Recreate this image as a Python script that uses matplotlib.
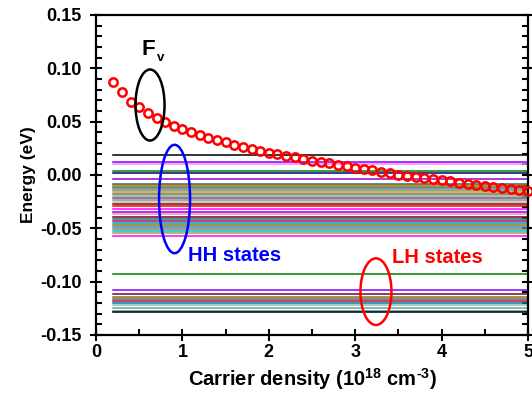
import matplotlib
matplotlib.use("Agg")
import matplotlib.pyplot as plt
from matplotlib.patches import Ellipse
import numpy as np

plt.rcParams['font.family'] = ['Liberation Sans', 'DejaVu Sans']
plt.rcParams['font.weight'] = 'bold'
plt.rcParams['mathtext.fontset'] = 'custom'
plt.rcParams['mathtext.rm'] = 'Liberation Sans:bold'
plt.rcParams['mathtext.bf'] = 'Liberation Sans:bold'

# Carrier density (1e18 cm^-3)
density = [0.2, 0.3, 0.4, 0.5, 0.6, 0.7, 0.8, 0.9, 1.0, 1.1, 1.2, 1.3, 1.4, 1.5, 1.6,
           1.7, 1.8, 1.9, 2.0, 2.1, 2.2, 2.3, 2.4, 2.5, 2.6, 2.7, 2.8, 2.9, 3.0, 3.1,
           3.2, 3.3, 3.4, 3.5, 3.6, 3.7, 3.8, 3.9, 4.0, 4.1, 4.2, 4.3, 4.4, 4.5, 4.6,
           4.7, 4.8, 4.9, 5.0]
# Quasi-Fermi level F_v (eV)
fermi_v = [0.0869, 0.0781, 0.0687, 0.0635, 0.0578, 0.0532, 0.0494, 0.0459, 0.0431,
           0.0406, 0.0375, 0.0350, 0.0325, 0.0307, 0.0284, 0.0265, 0.0247, 0.0228,
           0.0209, 0.0197, 0.0181, 0.0166, 0.0150, 0.0134, 0.0122, 0.0110, 0.0097,
           0.0082, 0.0066, 0.0053, 0.0044, 0.0031, 0.0016, 0.0004, -0.0008, -0.0016,
           -0.0025, -0.0038, -0.0047, -0.0059, -0.0072, -0.0084, -0.0094, -0.0103,
           -0.0115, -0.0125, -0.0134, -0.0143, -0.0150]

# Heavy-hole state energies (eV)
hh_states = [0.01875, 0.0125, 0.0103, 0.0040, 0.0016, -0.0040, -0.0080, -0.0094,
             -0.0108, -0.0122, -0.0141, -0.0159, -0.0178, -0.0197, -0.0216, -0.0234,
             -0.0253, -0.0272, -0.0291, -0.0319, -0.0344, -0.0366, -0.0391, -0.0413,
             -0.0431, -0.0450, -0.0469, -0.0488, -0.0506, -0.0525, -0.0544, -0.0572]
# Light-hole state energies (eV)
lh_states = [-0.0931, -0.1078, -0.1118, -0.1141, -0.1163, -0.1181, -0.1203,
             -0.1223, -0.1247, -0.1272, -0.1287]

hh_colors = ['#000000', '#8000FF', '#FF80FF', '#008000', '#000080', '#A000C0',
             '#008080', '#C06000', '#808000', '#4080C0', '#808080', '#B0B000',
             '#707070', '#A0A0A0', '#606060', '#909090', '#C0C0C0', '#800000',
             '#FF0000', '#FF00FF', '#8000FF', '#FF80C0', '#800000', '#008080',
             '#C00080', '#00A0A0', '#808000', '#4080C0', '#808080', '#00C0C0',
             '#A0A040', '#FF00FF']
lh_colors = ['#008000', '#8000FF', '#800040', '#808000', '#606060', '#C00060',
             '#008080', '#80C0C0', '#80A080', '#40A0C0', '#000000']

x_range = [density[0], density[-1]]

fig = plt.figure(figsize=(5.32, 4.04), dpi=100)
ax = fig.add_axes([0.1805, 0.1708, 0.812, 0.7921])

for e, c in zip(hh_states, hh_colors):
    ax.plot(x_range, [e, e], color=c, lw=1.1, zorder=2)
for e, c in zip(lh_states, lh_colors):
    ax.plot(x_range, [e, e], color=c, lw=1.1, zorder=2)

ax.plot(density, fermi_v, 'o', ms=6.0, mfc='none', mec='#FF0000', mew=1.8,
        zorder=4, clip_on=False)

# annotation ellipses
ax.add_patch(Ellipse((0.625, 0.0656), 0.336, 0.0666, fill=False, ec='black', lw=1.8, zorder=5))
ax.add_patch(Ellipse((0.909, -0.0225), 0.359, 0.1016, fill=False, ec='#0000FF', lw=1.8, zorder=5))
ax.add_patch(Ellipse((3.24, -0.1094), 0.359, 0.0625, fill=False, ec='#FF0000', lw=1.8, zorder=5))

ax.text(0.53, 0.1173, 'F', fontsize=16, fontweight='bold', ha='left', va='center')
ax.text(0.71, 0.1093, 'v', fontsize=9.5, fontweight='bold', ha='left', va='center')
ax.text(1.065, -0.0755, 'HH states', fontsize=14.5, fontweight='bold', color='#0000FF',
        ha='left', va='center')
ax.text(3.42, -0.0778, 'LH states', fontsize=14.5, fontweight='bold', color='#FF0000',
        ha='left', va='center')

ax.set_xlim(0, 5)
ax.set_ylim(-0.15, 0.15)
ax.set_xticks(np.arange(0, 5.01, 1))
ax.set_xticks(np.arange(0.5, 5, 1), minor=True)
ax.set_yticks(np.arange(-0.15, 0.151, 0.05))
ax.set_yticks(np.arange(-0.15, 0.151, 0.01), minor=True)
ax.set_xticklabels(['0', '1', '2', '3', '4', '5'])
ax.set_yticklabels(['-0.15', '-0.10', '-0.05', '0.00', '0.05', '0.10', '0.15'])

ax.tick_params(which='major', direction='inout', length=9, width=1.5, labelsize=13)
ax.tick_params(which='minor', direction='in', length=4, width=1.5)
ax.tick_params(axis='x', which='major', pad=2)
ax.tick_params(axis='y', which='major', pad=6)
ax.tick_params(which='both', axis='y', right=True, labelright=False)
for s in ax.spines.values():
    s.set_linewidth(1.6)

ax.set_xlabel(r'Carrier density (10$^{\mathbf{18}}$ cm$^{\text{-3}}$)', fontsize=14.5,
              fontweight='bold', labelpad=4)
ax.set_ylabel('Energy (eV)', fontsize=12.5, fontweight='bold', labelpad=3)

fig.savefig('out.png', dpi=100)
